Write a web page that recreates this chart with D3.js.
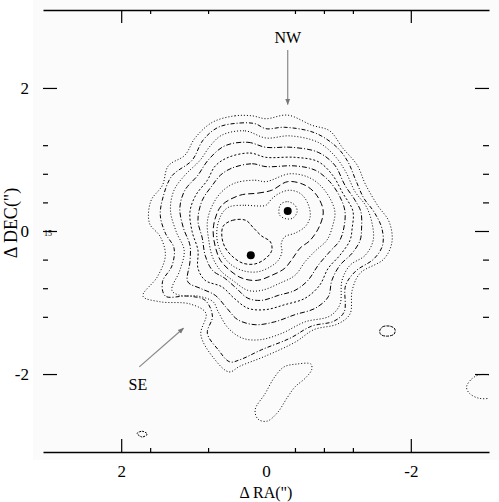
<!DOCTYPE html>
<html>
<head>
<meta charset="utf-8">
<script src="https://cdn.jsdelivr.net/npm/d3@7"></script>
<style>
body{margin:0;background:#fff;}
svg text{font-family:"Liberation Serif","Times New Roman",serif;fill:#000;}
</style>
</head>
<body>
<svg id="map" width="499" height="502"></svg>
<script>
// contour levels, outermost first; points are [dRA, dDEC] in arcsec
let c1 = [[0.74,1.52],[0.43,1.61],[0.19,1.61],[0.00,1.57],[-0.30,1.62],[-0.63,1.48],[-0.88,1.40],[-1.06,1.16],[-1.26,0.92],[-1.37,0.66],[-1.54,0.36],[-1.70,0.13],[-1.74,-0.15],[-1.63,-0.39],[-1.30,-0.59],[-1.19,-0.83],[-1.16,-1.16],[-0.99,-1.30],[-0.66,-1.38],[-0.41,-1.55],[0.01,-1.75],[0.36,-1.89],[0.51,-1.97],[0.72,-1.78],[0.90,-1.45],[0.83,-1.15],[1.05,-1.02],[1.46,-0.99],[1.70,-0.91],[1.50,-0.64],[1.39,-0.34],[1.46,-0.08],[1.61,0.11],[1.59,0.42],[1.43,0.64],[1.35,0.91],[1.12,1.06],[0.98,1.30]];
let c2 = [[0.66,1.45],[0.36,1.51],[0.15,1.50],[0.00,1.43],[-0.26,1.45],[-0.68,1.37],[-0.98,1.17],[-1.13,0.97],[-1.24,0.71],[-1.35,0.46],[-1.49,0.27],[-1.60,0.04],[-1.61,-0.20],[-1.49,-0.39],[-1.24,-0.56],[-1.10,-0.76],[-1.08,-1.13],[-0.94,-1.26],[-0.63,-1.33],[-0.33,-1.50],[0.06,-1.66],[0.36,-1.80],[0.50,-1.83],[0.66,-1.66],[0.81,-1.43],[0.74,-1.19],[0.84,-0.97],[1.08,-0.91],[1.39,-0.91],[1.43,-0.71],[1.30,-0.49],[1.27,-0.24],[1.39,-0.03],[1.46,0.22],[1.42,0.48],[1.30,0.77],[1.02,0.99],[0.87,1.27]];
let c3 = [[0.61,1.34],[0.29,1.40],[0.00,1.30],[-0.33,1.33],[-0.72,1.24],[-0.95,1.05],[-1.10,0.83],[-1.23,0.55],[-1.38,0.35],[-1.46,0.13],[-1.48,-0.13],[-1.37,-0.34],[-1.16,-0.48],[-1.05,-0.69],[-1.02,-1.03],[-0.88,-1.19],[-0.54,-1.27],[-0.22,-1.43],[0.08,-1.52],[0.32,-1.50],[0.52,-1.36],[0.66,-1.13],[0.73,-0.99],[0.94,-0.91],[1.19,-0.90],[1.30,-0.83],[1.19,-0.55],[1.13,-0.27],[1.24,-0.01],[1.32,0.29],[1.27,0.57],[1.12,0.78],[0.91,0.99],[0.77,1.19]];
let c4 = [[0.57,1.19],[0.25,1.24],[0.00,1.17],[-0.36,1.17],[-0.72,1.10],[-0.95,0.92],[-1.09,0.64],[-1.23,0.43],[-1.31,0.27],[-1.32,0.04],[-1.30,-0.13],[-1.19,-0.31],[-1.02,-0.48],[-0.91,-0.69],[-0.86,-0.92],[-0.68,-1.08],[-0.40,-1.17],[-0.12,-1.27],[0.15,-1.31],[0.39,-1.24],[0.54,-1.08],[0.70,-0.90],[0.91,-0.80],[1.08,-0.71],[1.05,-0.43],[1.05,-0.20],[1.14,0.04],[1.19,0.32],[1.12,0.57],[0.94,0.78],[0.80,0.99]];
let c5 = [[0.52,1.03],[0.22,1.09],[0.00,1.03],[-0.40,1.03],[-0.72,0.97],[-0.92,0.78],[-1.06,0.53],[-1.20,0.28],[-1.19,0.04],[-1.16,-0.13],[-1.02,-0.34],[-0.86,-0.52],[-0.74,-0.76],[-0.54,-0.94],[-0.26,-1.03],[0.01,-1.10],[0.25,-1.08],[0.44,-0.94],[0.61,-0.78],[0.84,-0.69],[0.94,-0.52],[0.94,-0.27],[1.02,-0.01],[1.05,0.27],[0.97,0.50],[0.81,0.71],[0.70,0.91]];
let c6 = [[0.47,0.88],[0.19,0.94],[0.00,0.90],[-0.40,0.91],[-0.68,0.85],[-0.88,0.69],[-1.02,0.48],[-1.09,0.28],[-1.08,0.07],[-1.02,-0.13],[-0.88,-0.29],[-0.72,-0.48],[-0.58,-0.69],[-0.40,-0.83],[-0.17,-0.90],[0.06,-0.97],[0.25,-0.94],[0.41,-0.80],[0.57,-0.66],[0.74,-0.55],[0.84,-0.34],[0.88,-0.10],[0.94,0.15],[0.88,0.43],[0.74,0.64],[0.63,0.78]];
let c7 = [[0.43,0.67],[0.15,0.71],[0.00,0.69],[-0.33,0.80],[-0.61,0.74],[-0.81,0.57],[-0.95,0.28],[-0.92,0.07],[-0.84,-0.13],[-0.69,-0.27],[-0.54,-0.43],[-0.40,-0.62],[-0.19,-0.73],[0.06,-0.83],[0.25,-0.83],[0.46,-0.69],[0.63,-0.55],[0.74,-0.36],[0.79,-0.13],[0.81,0.13],[0.74,0.36],[0.61,0.55]];
let c8 = [[0.36,0.50],[0.11,0.53],[-0.08,0.57],[-0.30,0.69],[-0.54,0.64],[-0.70,0.50],[-0.79,0.28],[-0.74,0.07],[-0.61,-0.13],[-0.47,-0.24],[-0.37,-0.38],[-0.26,-0.52],[-0.08,-0.62],[0.12,-0.69],[0.33,-0.66],[0.50,-0.55],[0.63,-0.41],[0.70,-0.22],[0.73,-0.01],[0.70,0.18],[0.61,0.36]];
let c9 = [[0.50,0.34],[0.29,0.36],[0.11,0.35],[0.00,0.36],[-0.08,0.45],[-0.19,0.53],[-0.33,0.57],[-0.48,0.52],[-0.58,0.38],[-0.61,0.20],[-0.54,0.06],[-0.40,-0.03],[-0.26,-0.08],[-0.21,-0.18],[-0.22,-0.29],[-0.17,-0.41],[-0.06,-0.50],[0.11,-0.57],[0.30,-0.56],[0.47,-0.48],[0.59,-0.35],[0.66,-0.20],[0.68,-0.01],[0.65,0.15],[0.59,0.27]];
let c10se = [[0.59,0.07],[0.46,0.15],[0.28,0.15],[0.17,0.04],[0.06,-0.07],[-0.06,-0.15],[-0.08,-0.27],[0.00,-0.38],[0.15,-0.46],[0.32,-0.45],[0.47,-0.35],[0.57,-0.22],[0.61,-0.07]];
let c10nw = [[-0.21,0.38],[-0.30,0.41],[-0.40,0.36],[-0.43,0.27],[-0.37,0.18],[-0.28,0.17],[-0.19,0.22],[-0.18,0.31]];
// isolated loops away from the source
let blobS = [[0.15,-2.50],[0.11,-2.63],[-0.01,-2.66],[-0.15,-2.55],[-0.30,-2.32],[-0.40,-2.18],[-0.54,-2.06],[-0.63,-1.94],[-0.62,-1.86],[-0.43,-1.86],[-0.25,-1.90],[-0.12,-2.04],[0.01,-2.27]];
let blobE = [[-1.57,-1.40],[-1.61,-1.34],[-1.71,-1.33],[-1.78,-1.37],[-1.77,-1.44],[-1.68,-1.47],[-1.59,-1.45]];
let blobEdge = [[-2.77,-2.18],[-2.84,-2.07],[-2.95,-2.01],[-3.12,-2.03],[-3.20,-2.17],[-3.12,-2.32],[-2.95,-2.34],[-2.81,-2.27]];
let blobSW = [[1.78,-2.83],[1.71,-2.80],[1.64,-2.84],[1.71,-2.88]];
let peaks = [[0.21,-0.34],[-0.30,0.28]];

let raMajor = [2,-2], raMinor = [1.6,0.8,-0.4,-0.8,-1.2], raLabels = [2,0,-2];
let decMajor = [2,0,-2], decMinor = [1.2,0.8,0.4,-0.4,-0.8,-1.2], decLabels = [2,0,-2];

let notes = [{text:'NW', at:[-0.30,2.63], from:[-0.30,2.53], to:[-0.30,1.77]},
             {text:'SE', at:[1.77,-2.22], from:[1.75,-1.90], to:[1.14,-1.36]}];

let svg = d3.select('#map');
let x = d3.scaleLinear().domain([3.08,-3.08]).range([43,489]);
let y = d3.scaleLinear().domain([3.09,-3.09]).range([10,452]);

svg.append('rect').attr('x',33).attr('y',0).attr('width',466).attr('height',460).attr('fill','#fbfbfb');

svg.append('clipPath').attr('id','plot').append('rect')
    .attr('x',43).attr('y',10).attr('width',446).attr('height',442);

let contours = [
    {pts:c1, dash:'1,2'}, {pts:c2, dash:'4,2,1,2'}, {pts:c3, dash:'1,2'},
    {pts:c4, dash:'5,2,1,2'}, {pts:c5, dash:'2,2'}, {pts:c6, dash:'5,2,1,2'},
    {pts:c7, dash:'1,2'}, {pts:c8, dash:'6,3'}, {pts:c9, dash:'1,2'},
    {pts:c10se, dash:'3,2'}, {pts:c10nw, dash:'1,2'},
    {pts:blobS, dash:'1,2'}, {pts:blobE, dash:'3,1'}, {pts:blobEdge, dash:'1,2'}, {pts:blobSW, dash:'2,1'}
];

let line = d3.line()
    .x(d=>x(d[0]))
    .y(d=>y(d[1]))
    .curve(d3.curveCatmullRomClosed.alpha(0.5));

let layer = svg.append('g').attr('clip-path','url(#plot)');
layer.selectAll('.contour')
    .data(contours)
    .enter().append('path')
    .attr('class','contour')
    .attr('d',d=>line(d.pts))
    .attr('fill','none')
    .attr('stroke','#000')
    .attr('stroke-width',1)
    .attr('stroke-dasharray',d=>d.dash);

layer.selectAll('.peak')
    .data(peaks)
    .enter().append('circle')
    .attr('cx',d=>x(d[0]))
    .attr('cy',d=>y(d[1]))
    .attr('r',4)
    .attr('fill','#000');

// frame ticks: top/bottom lines are the axis domains, no side lines
function ticks(g, axis){
    g.call(axis);
    g.selectAll('line').attr('stroke','#000').attr('stroke-width',1.2);
    g.selectAll('text').remove();
    return g;
}
let topAxis = svg.append('g').attr('transform','translate(0,10)');
ticks(topAxis, d3.axisTop(x).tickValues(raMajor).tickSize(-13).tickSizeOuter(0));
topAxis.select('.domain').attr('stroke-width',1.5);
ticks(svg.append('g').attr('transform','translate(0,10)'), d3.axisTop(x).tickValues(raMinor).tickSize(-4)).select('.domain').remove();
let bottomAxis = svg.append('g').attr('transform','translate(0,452)');
ticks(bottomAxis, d3.axisBottom(x).tickValues(raMajor).tickSize(-13).tickSizeOuter(0));
bottomAxis.select('.domain').attr('stroke-width',1.5);
ticks(svg.append('g').attr('transform','translate(0,452)'), d3.axisBottom(x).tickValues(raMinor).tickSize(-4)).select('.domain').remove();
ticks(svg.append('g').attr('transform','translate(43,0)'), d3.axisLeft(y).tickValues(decMajor).tickSize(-14)).select('.domain').remove();
ticks(svg.append('g').attr('transform','translate(43,0)'), d3.axisLeft(y).tickValues(decMinor).tickSize(-5)).select('.domain').remove();
ticks(svg.append('g').attr('transform','translate(489,0)'), d3.axisRight(y).tickValues(decMajor).tickSize(-14)).select('.domain').remove();
ticks(svg.append('g').attr('transform','translate(489,0)'), d3.axisRight(y).tickValues(decMinor).tickSize(-6)).select('.domain').remove();

// tick labels
let xl = svg.append('g').attr('transform','translate(0,452)')
    .call(d3.axisBottom(x).tickValues(raLabels).tickSize(0).tickPadding(13).tickFormat(d3.format('d')));
xl.select('.domain').remove();
xl.attr('font-family',null).attr('font-size',17);
let yl = svg.append('g').attr('transform','translate(43,0)')
    .call(d3.axisLeft(y).tickValues(decLabels).tickSize(0).tickPadding(14).tickFormat(d3.format('d')));
yl.select('.domain').remove();
yl.attr('font-family',null).attr('font-size',17);
svg.selectAll('.tick text').text(d=>d<0 ? '-'+Math.abs(d) : d);

svg.append('text')
    .attr('x',x(0)).attr('y',498)
    .attr('text-anchor','middle')
    .attr('font-size',16)
    .text('\u0394 RA(")');
svg.append('text')
    .attr('transform','translate(17,223) rotate(-90)')
    .attr('text-anchor','middle')
    .attr('font-size',18)
    .text('\u0394 DEC(")');
svg.append('text')
    .attr('x',44).attr('y',236)
    .attr('font-size',8).attr('fill','#555')
    .text('15');

// annotations
svg.append('defs').append('marker')
    .attr('id','head').attr('viewBox','0 0 10 10')
    .attr('refX',9).attr('refY',5)
    .attr('markerWidth',5).attr('markerHeight',5)
    .attr('orient','auto')
    .append('path').attr('d','M0,1L10,5L0,9Z').attr('fill','#777');
svg.selectAll('.note-line')
    .data(notes)
    .enter().append('line')
    .attr('x1',d=>x(d.from[0])).attr('y1',d=>y(d.from[1]))
    .attr('x2',d=>x(d.to[0])).attr('y2',d=>y(d.to[1]))
    .attr('stroke','#888').attr('stroke-width',1.2)
    .attr('marker-end','url(#head)');
svg.selectAll('.note-text')
    .data(notes)
    .enter().append('text')
    .attr('x',d=>x(d.at[0])).attr('y',d=>y(d.at[1]))
    .attr('text-anchor','middle')
    .attr('font-size',16)
    .text(d=>d.text);
</script>
</body>
</html>
